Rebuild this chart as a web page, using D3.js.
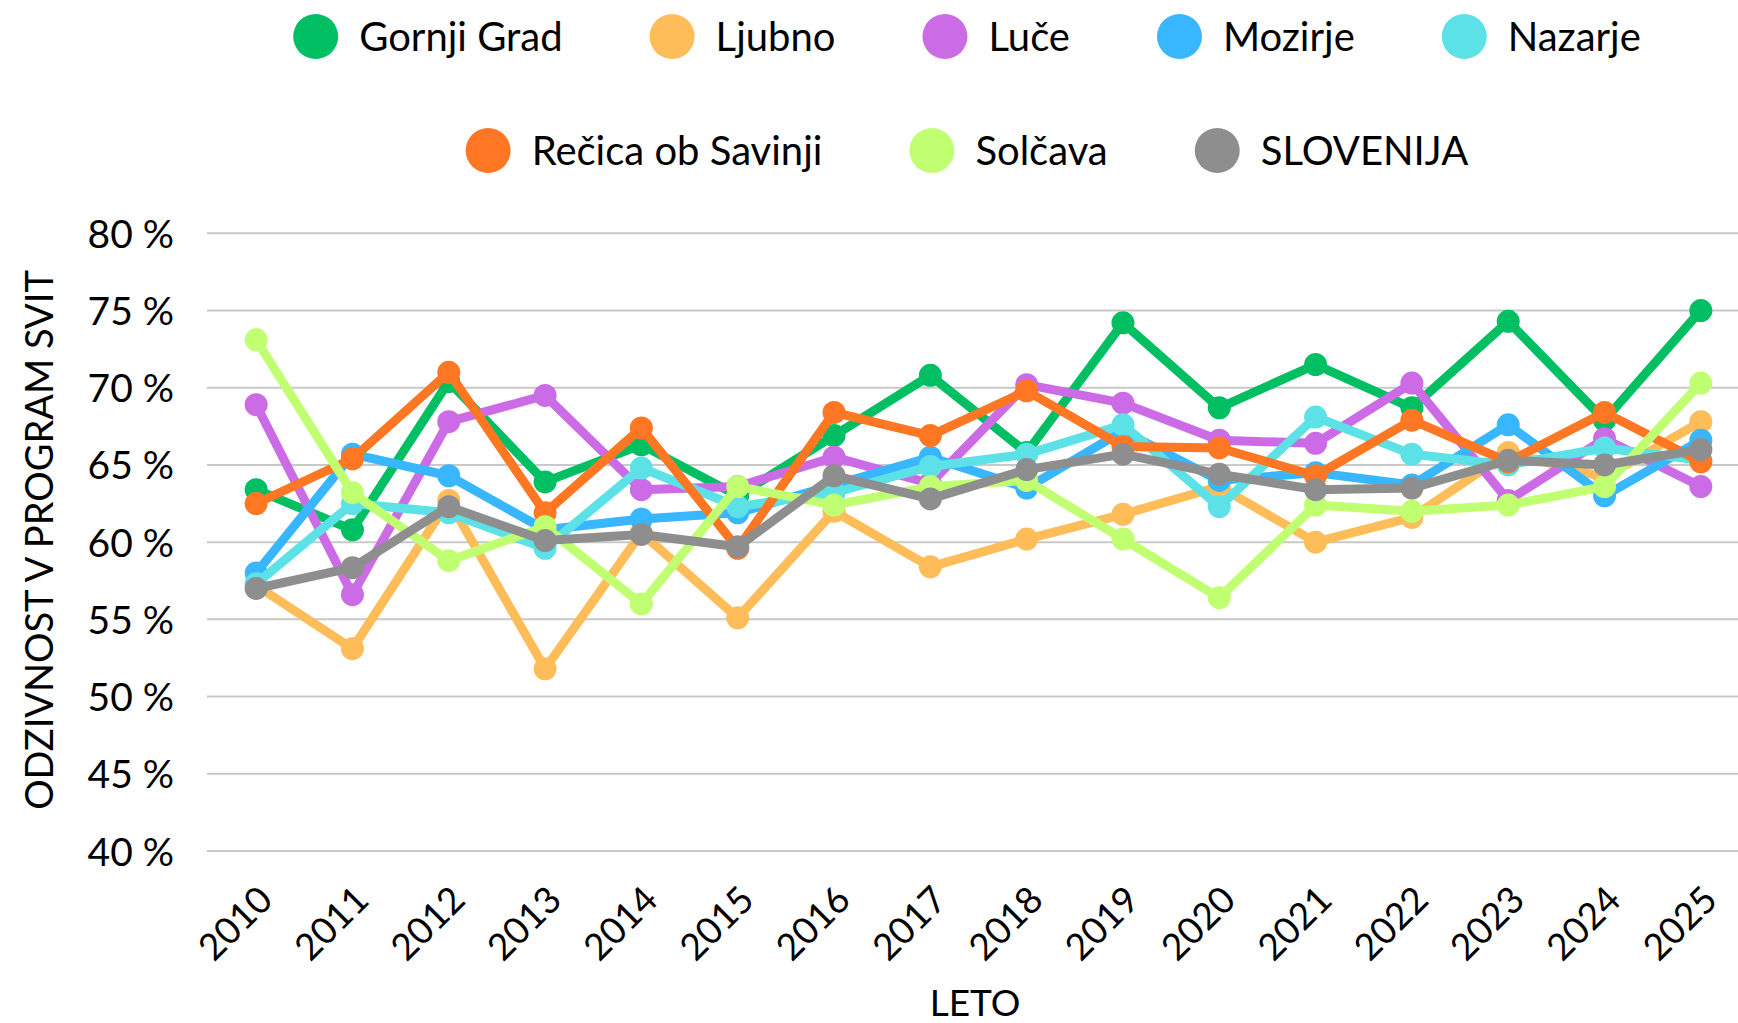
<!DOCTYPE html>
<html>
<head>
<meta charset="utf-8">
<script src="https://cdn.jsdelivr.net/npm/d3@7"></script>
<style>
  html, body { margin: 0; padding: 0; background: #ffffff; }
  svg { display: block; }
  text { font-family: Lato, "Noto Sans", sans-serif; fill: #000; }
</style>
</head>
<body>
<svg id="chart" width="1738" height="1023"></svg>
<script>
// ---------- data ----------
const years = ["2010","2011","2012","2013","2014","2015","2016","2017","2018","2019","2020","2021","2022","2023","2024","2025"];
const seriesNames = ["Gornji Grad","Ljubno","Luče","Mozirje","Nazarje","Rečica ob Savinji","Solčava","SLOVENIJA"];
const gornjiGrad = [63.4, 60.8, 70.4, 63.9, 66.3, 63.0, 66.9, 70.8, 65.8, 74.2, 68.7, 71.5, 68.7, 74.3, 67.9, 75.0];
const ljubno     = [57.2, 53.1, 62.7, 51.8, 60.6, 55.1, 62.0, 58.4, 60.2, 61.8, 63.6, 60.0, 61.6, 65.8, 64.2, 67.8];
const luce       = [68.9, 56.6, 67.8, 69.5, 63.4, 63.6, 65.5, 63.8, 70.2, 69.0, 66.6, 66.4, 70.3, 62.7, 66.7, 63.6];
const mozirje    = [58.0, 65.7, 64.3, 60.8, 61.5, 61.9, 63.7, 65.5, 63.5, 67.2, 64.0, 64.5, 63.7, 67.6, 63.0, 66.6];
const nazarje    = [57.3, 62.5, 61.9, 59.6, 64.8, 62.3, 63.2, 64.9, 65.7, 67.6, 62.3, 68.1, 65.7, 65.0, 66.1, 65.3];
const recica     = [62.5, 65.4, 71.0, 61.9, 67.4, 59.6, 68.4, 66.9, 69.8, 66.2, 66.1, 64.3, 67.9, 65.2, 68.4, 65.2];
const solcava    = [73.1, 63.2, 58.8, 61.0, 56.0, 63.6, 62.4, 63.6, 64.0, 60.2, 56.4, 62.4, 62.0, 62.4, 63.6, 70.3];
const slovenija  = [57.0, 58.35, 62.3, 60.1, 60.5, 59.7, 64.3, 62.8, 64.7, 65.7, 64.4, 63.4, 63.5, 65.3, 65.0, 66.0];
const yTicks = [40, 45, 50, 55, 60, 65, 70, 75, 80];
const yTitle = "ODZIVNOST V PROGRAM SVIT";
const xTitle = "LETO";

const seriesValues = [gornjiGrad, ljubno, luce, mozirje, nazarje, recica, solcava, slovenija];
const colors = ["#00BF63","#FFBD59","#CB6CE6","#38B6FF","#5CE1E6","#FF7722","#C1FF72","#8E8E8E"];

// ---------- layout ----------
const plot = { left: 207, right: 1738, top: 233.3, bottom: 851 };
const svg = d3.select("#chart");

const x = d3.scalePoint().domain(years).range([208, 1749]).padding(0.5);
const y = d3.scaleLinear().domain([40, 80]).range([plot.bottom, plot.top]);

// gridlines
svg.append("g").selectAll("line").data(yTicks).join("line")
  .attr("x1", plot.left).attr("x2", plot.right)
  .attr("y1", d => y(d)).attr("y2", d => y(d))
  .attr("stroke", "#c9c9c9").attr("stroke-width", 2);

// y axis labels
const yAxis = d3.axisLeft(y).tickValues(yTicks).tickSize(0).tickPadding(0)
  .tickFormat(d => d + " %");
const gy = svg.append("g").attr("transform", `translate(174,0)`).call(yAxis);
gy.select(".domain").remove();
gy.selectAll("text").attr("font-size", 39).attr("font-family", "Lato, sans-serif")
  .attr("fill", "#000").attr("dy", "0.36em").attr("x", 0);

// x axis labels
const xAxis = d3.axisBottom(x).tickSize(0).tickPadding(0);
const gx = svg.append("g").attr("transform", `translate(0,${plot.bottom})`).call(xAxis);
gx.select(".domain").remove();
gx.selectAll(".tick text")
  .attr("font-size", 37).attr("font-family", "Lato, sans-serif").attr("fill", "#000")
  .attr("text-anchor", "end")
  .attr("x", 0).attr("y", 0).attr("dy", 0)
  .attr("transform", "translate(18,51) rotate(-45)");

// axis titles
svg.append("text")
  .attr("transform", `translate(53,540) rotate(-90)`)
  .attr("text-anchor", "middle").attr("font-size", 38)
  .text(yTitle);
svg.append("text")
  .attr("x", 975).attr("y", 1016)
  .attr("text-anchor", "middle").attr("font-size", 37)
  .text(xTitle);

// series
const line = d3.line().x((d, i) => x(years[i])).y(d => y(d));
seriesValues.forEach((vals, si) => {
  const g = svg.append("g");
  g.append("path").datum(vals)
    .attr("d", line).attr("fill", "none")
    .attr("stroke", colors[si]).attr("stroke-width", 9)
    .attr("stroke-linejoin", "round");
  g.selectAll("circle").data(vals).join("circle")
    .attr("cx", (d, i) => x(years[i])).attr("cy", d => y(d))
    .attr("r", 11.5).attr("fill", colors[si]);
});

// legend
const legendRows = [[0,1,2,3,4],[5,6,7]];
const legendRowY = [36.5, 150.5];
const legendCenter = 967;
const legendFont = 40, legendR = 22.5, textGap = 21, itemGap = 87;
legendRows.forEach((row, ri) => {
  const g = svg.append("g");
  const items = row.map(si => {
    const it = g.append("g");
    it.append("circle").attr("r", legendR).attr("fill", colors[si]);
    const t = it.append("text").attr("x", legendR + textGap).attr("y", 0)
      .attr("dy", "0.35em").attr("font-size", legendFont).text(seriesNames[si]);
    return { it, w: 2 * legendR + textGap + t.node().getComputedTextLength() };
  });
  const total = d3.sum(items, d => d.w) + itemGap * (items.length - 1);
  let cx = legendCenter - total / 2;
  items.forEach(d => {
    d.it.attr("transform", `translate(${cx + legendR},${legendRowY[ri]})`);
    cx += d.w + itemGap;
  });
});
</script>
</body>
</html>
